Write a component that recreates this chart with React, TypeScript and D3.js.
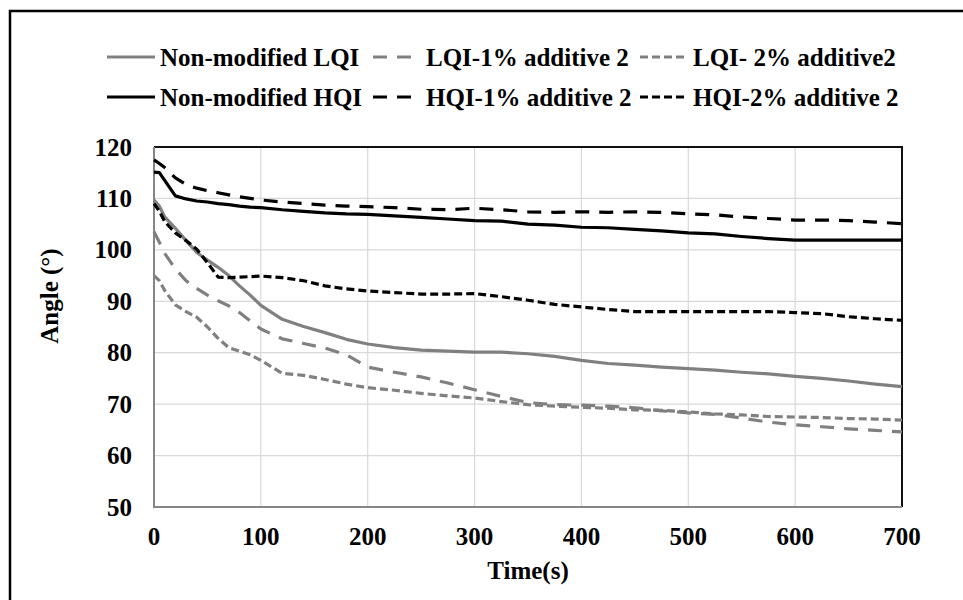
import React, { useEffect, useRef } from "react";
import * as d3 from "d3";

// time grid (s) shared by all series
const times = [
  0, 5, 10, 20, 30, 40, 50, 60, 70, 80, 90, 100, 120, 140, 160, 180, 200, 225,
  250, 275, 300, 325, 350, 375, 400, 425, 450, 475, 500, 525, 550, 575, 600,
  625, 650, 675, 700,
];

const lqiNonModified = [
  109.7, 108.5, 106.4, 104.2, 101.8, 99.5, 98.0, 96.6, 95.0, 93.0, 91.2, 89.2,
  86.5, 85.1, 83.9, 82.6, 81.7, 81.0, 80.5, 80.3, 80.1, 80.1, 79.8, 79.3, 78.5,
  77.9, 77.6, 77.2, 76.9, 76.6, 76.2, 75.9, 75.4, 75.0, 74.5, 73.9, 73.4,
];
const lqi1 = [
  103.5, 101.5, 99.3, 96.3, 94.0, 92.5, 91.2, 90.1, 89.1, 87.8, 86.2, 84.6,
  82.7, 81.8, 80.9, 79.6, 77.2, 76.2, 75.3, 74.1, 72.8, 71.5, 70.3, 69.9, 69.8,
  69.6, 69.3, 68.7, 68.3, 68.0, 67.3, 66.5, 66.0, 65.6, 65.2, 64.9, 64.6,
];
const lqi2 = [
  95.0, 94.0, 92.1, 89.3, 88.0, 86.9, 85.0, 82.8, 81.0, 80.3, 79.6, 78.5, 76.0,
  75.6, 74.8, 73.9, 73.2, 72.7, 72.1, 71.6, 71.2, 70.5, 69.9, 69.6, 69.4, 69.2,
  68.9, 68.8, 68.5, 68.1, 67.9, 67.6, 67.5, 67.4, 67.2, 67.1, 66.9,
];
const hqiNonModified = [
  115.1, 115.0, 113.5, 110.5, 109.9, 109.5, 109.3, 109.0, 108.8, 108.5, 108.3,
  108.2, 107.8, 107.5, 107.2, 107.0, 106.9, 106.6, 106.3, 106.0, 105.7, 105.6,
  105.0, 104.8, 104.4, 104.3, 104.0, 103.7, 103.3, 103.1, 102.6, 102.2, 101.9,
  101.9, 101.9, 101.9, 101.9,
];
const hqi1 = [
  117.5, 116.8, 116.0, 114.0, 112.7, 112.0, 111.5, 111.1, 110.7, 110.3, 110.0,
  109.7, 109.3, 109.0, 108.7, 108.5, 108.4, 108.2, 107.9, 107.8, 108.1, 107.8,
  107.4, 107.3, 107.4, 107.3, 107.4, 107.3, 107.0, 106.8, 106.4, 106.1, 105.8,
  105.8, 105.7, 105.4, 105.1,
];
const hqi2 = [
  109.0, 107.5, 105.5, 103.3, 101.8, 100.1, 97.5, 94.7, 94.6, 94.7, 94.8, 94.9,
  94.6, 94.0, 93.0, 92.4, 92.0, 91.7, 91.4, 91.4, 91.5, 90.9, 90.2, 89.4, 88.9,
  88.4, 88.0, 88.0, 88.0, 88.0, 88.0, 88.0, 87.8, 87.6, 87.0, 86.6, 86.3,
];

const seriesNames = [
  "Non-modified LQI",
  "LQI-1% additive 2",
  "LQI- 2% additive2",
  "Non-modified HQI",
  "HQI-1% additive 2",
  "HQI-2% additive 2",
];
const seriesValues = [lqiNonModified, lqi1, lqi2, hqiNonModified, hqi1, hqi2];

const xTicks = [0, 100, 200, 300, 400, 500, 600, 700];
const yTicks = [50, 60, 70, 80, 90, 100, 110, 120];

const GRAY = "#808080";
const colors = [GRAY, GRAY, GRAY, "#000", "#000", "#000"];
const dashes = [null, "14,10", "8,4", null, "14,10", "8,4"];

const FONT = "'Liberation Serif', 'Times New Roman', serif";

const App = () => {
  const ref = useRef<SVGSVGElement | null>(null);

  useEffect(() => {
    const svg = d3.select(ref.current);
    svg.selectAll("*").remove();

    const left = 154;
    const right = 902;
    const top = 147;
    const bottom = 507;

    const x = d3.scaleLinear().domain([0, 700]).range([left, right]);
    const y = d3.scaleLinear().domain([50, 120]).range([bottom, top]);

    svg
      .append("rect")
      .attr("width", 963)
      .attr("height", 600)
      .attr("fill", "#fff");

    // outer chart border (runs off the right and bottom edges)
    svg
      .append("path")
      .attr("d", "M10,605 L10,11 L970,11")
      .attr("fill", "none")
      .attr("stroke", "#000")
      .attr("stroke-width", 2.5);

    // gridlines
    svg
      .append("g")
      .selectAll("line.gy")
      .data(yTicks)
      .join("line")
      .attr("x1", left)
      .attr("x2", right)
      .attr("y1", (d) => y(d))
      .attr("y2", (d) => y(d))
      .attr("stroke", "#d9d9d9")
      .attr("stroke-width", 1.2);

    svg
      .append("g")
      .selectAll("line.gx")
      .data(xTicks)
      .join("line")
      .attr("x1", (d) => x(d))
      .attr("x2", (d) => x(d))
      .attr("y1", top)
      .attr("y2", bottom)
      .attr("stroke", "#d9d9d9")
      .attr("stroke-width", 1.2);

    // plot area frame: dark top/right, gray axes left/bottom
    svg
      .append("path")
      .attr("d", `M${left},${top} L${right},${top} L${right},${bottom}`)
      .attr("fill", "none")
      .attr("stroke", "#111")
      .attr("stroke-width", 2);
    svg
      .append("path")
      .attr("d", `M${left},${top} L${left},${bottom} L${right},${bottom}`)
      .attr("fill", "none")
      .attr("stroke", "#868686")
      .attr("stroke-width", 2);

    // tick labels
    svg
      .append("g")
      .selectAll("text")
      .data(yTicks)
      .join("text")
      .attr("x", left - 22)
      .attr("y", (d) => y(d) + 8.5)
      .attr("text-anchor", "end")
      .style("font-family", FONT)
      .style("font-weight", "bold")
      .style("font-size", "25px")
      .text((d) => d);

    svg
      .append("g")
      .selectAll("text")
      .data(xTicks)
      .join("text")
      .attr("x", (d) => x(d))
      .attr("y", 545)
      .attr("text-anchor", "middle")
      .style("font-family", FONT)
      .style("font-weight", "bold")
      .style("font-size", "25px")
      .text((d) => d);

    // axis titles
    svg
      .append("text")
      .attr("x", (left + right) / 2)
      .attr("y", 579)
      .attr("text-anchor", "middle")
      .style("font-family", FONT)
      .style("font-weight", "bold")
      .style("font-size", "25px")
      .text("Time(s)");

    svg
      .append("text")
      .attr("transform", "translate(58,296) rotate(-90)")
      .attr("text-anchor", "middle")
      .style("font-family", FONT)
      .style("font-weight", "bold")
      .style("font-size", "25px")
      .text("Angle (°)");

    // series
    const line = d3
      .line<number>()
      .x((_, i) => x(times[i]))
      .y((d) => y(d));

    seriesValues.forEach((vals, i) => {
      svg
        .append("path")
        .datum(vals)
        .attr("d", line)
        .attr("fill", "none")
        .attr("stroke", colors[i])
        .attr("stroke-width", 3.2)
        .attr("stroke-linejoin", "round")
        .attr("stroke-dasharray", dashes[i]);
    });

    // legend: 3 columns x 2 rows
    const colX = [107, 373, 640];
    const rowY = [57, 97];
    seriesNames.forEach((name, i) => {
      const g = svg
        .append("g")
        .attr(
          "transform",
          `translate(${colX[i % 3]},${rowY[Math.floor(i / 3)]})`
        );
      g.append("line")
        .attr("x1", 0)
        .attr("x2", 48)
        .attr("y1", 0)
        .attr("y2", 0)
        .attr("stroke", colors[i])
        .attr("stroke-width", 3.2)
        .attr("stroke-dasharray", dashes[i]);
      g.append("text")
        .attr("x", 53)
        .attr("y", 8.5)
        .style("font-family", FONT)
        .style("font-weight", "bold")
        .style("font-size", "25px")
        .text(name);
    });
  }, []);

  return (
    <svg
      ref={ref}
      width={963}
      height={600}
      style={{ position: "absolute", left: 0, top: 0, display: "block" }}
    />
  );
};

export default App;
